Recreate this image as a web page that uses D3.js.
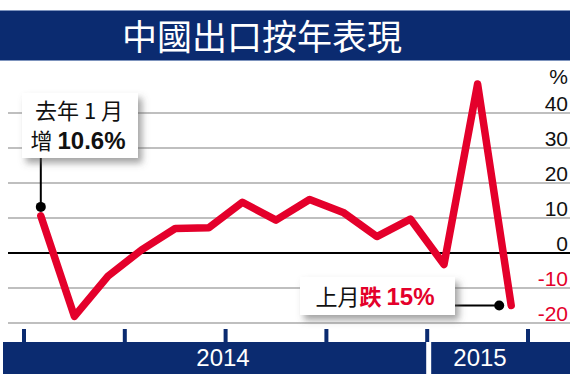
<!DOCTYPE html>
<html>
<head>
<meta charset="utf-8">
<script src="https://cdn.jsdelivr.net/npm/d3@7"></script>
<style>
  body { margin: 0; background: #fff; }
  svg { display: block; }
</style>
</head>
<body>
<div id="chart"></div>
<script>
// chart data
let title = "中國出口按年表現";
let months = ["2014-01", "2014-02", "2014-03", "2014-04", "2014-05", "2014-06", "2014-07",
              "2014-08", "2014-09", "2014-10", "2014-11", "2014-12", "2015-01", "2015-02", "2015-03"];
let exportsYoY = [10.6, -18.1, -6.6, 0.9, 7.0, 7.2, 14.5, 9.4, 15.3, 11.6, 4.7, 9.7, -3.3, 48.3, -15.0];
let yTicks = [40, 30, 20, 10, 0, -10, -20];
let years = ["2014", "2015"];
let yearStart = [0, 12];
let yearEnd = [12, 15];
let quarterTicks = [0, 3, 6, 9, 12, 15];

let width = 570;
let height = 374;

let svg = d3.select("#chart").append("svg").attr("width", width).attr("height", height);

let defs = svg.append("defs");
let shadow = defs.append("filter").attr("id", "shadow").attr("x", "-20%").attr("y", "-20%")
                 .attr("width", "150%").attr("height", "170%");
shadow.append("feDropShadow").attr("dx", 4).attr("dy", 5).attr("stdDeviation", 3.5)
      .attr("flood-color", "#555").attr("flood-opacity", 0.55);

// scales: x counts months from Jan 2014, y is percent
let xScale = d3.scaleLinear().domain([0, 15]).range([24, 528]);
let yScale = d3.scaleLinear().domain([0, 40]).range([253, 113]);

let navy = "#0b2b70";
let red = "#e4002b";
let fontLatin = "'Liberation Sans', Arial, sans-serif";
let fontCJK = "'Noto Sans CJK TC', 'Noto Sans CJK SC', sans-serif";

// title bar
svg.append("rect").attr("x", 0).attr("y", 10).attr("width", width).attr("height", 51).attr("fill", navy);
svg.append("line").attr("x1", 0).attr("x2", width).attr("y1", 10.5).attr("y2", 10.5)
   .attr("stroke", "#7d93bd").attr("stroke-width", 1);
svg.append("line").attr("x1", 0).attr("x2", width).attr("y1", 60.5).attr("y2", 60.5)
   .attr("stroke", "#7d93bd").attr("stroke-width", 1);
svg.append("text").attr("x", 262).attr("y", 50).attr("text-anchor", "middle")
   .attr("fill", "#fff").style("font-family", fontCJK).style("font-size", "35px").text(title);

// grid lines
svg.append("g").selectAll("line").data(yTicks).enter().append("line")
   .attr("x1", 8).attr("x2", width)
   .attr("y1", d => yScale(d)).attr("y2", d => yScale(d))
   .attr("stroke", d => d === 0 ? "#000" : "#aaa")
   .attr("stroke-width", d => d === 0 ? 2 : 1.3);

// y labels sit above their lines on the right
svg.append("g").selectAll("text").data(yTicks).enter().append("text")
   .attr("x", 568).attr("y", d => yScale(d) - 2).attr("text-anchor", "end")
   .attr("fill", d => d < 0 ? red : "#111")
   .style("font-family", fontLatin).style("font-size", "21px")
   .text(d => d);
svg.append("text").attr("x", 568).attr("y", 84).attr("text-anchor", "end").attr("fill", "#111")
   .style("font-family", fontLatin).style("font-size", "21px").text("%");

// bottom year bars
let barTop = 342;
years.forEach((yr, i) => {
    let x0 = i === 0 ? 3 : xScale(yearStart[i]) + 4;
    let x1 = i === years.length - 1 ? width : xScale(yearEnd[i]) - 1;
    svg.append("rect").attr("x", x0).attr("y", barTop).attr("width", x1 - x0).attr("height", height - barTop)
       .attr("fill", navy);
});
svg.append("text").attr("x", 223).attr("y", 366).attr("text-anchor", "middle").attr("fill", "#fff")
   .style("font-family", fontLatin).style("font-size", "24px").text(years[0]);
svg.append("text").attr("x", 480).attr("y", 366).attr("text-anchor", "middle").attr("fill", "#fff")
   .style("font-family", fontLatin).style("font-size", "24px").text(years[1]);

// quarter ticks
svg.append("g").selectAll("rect").data(quarterTicks).enter().append("rect")
   .attr("x", d => xScale(d) - 2).attr("y", 329).attr("width", 4).attr("height", barTop - 329)
   .attr("fill", navy);

// export line
let line = d3.line().x((d, i) => xScale(i + 0.5)).y(d => yScale(d));
svg.append("path").datum(exportsYoY).attr("d", line)
   .attr("fill", "none").attr("stroke", red).attr("stroke-width", 7.5)
   .attr("stroke-linejoin", "round").attr("stroke-linecap", "round");

// annotation: first month
let first = exportsYoY[0];
let fx = xScale(0.5);
svg.append("line").attr("x1", fx).attr("x2", fx).attr("y1", 150).attr("y2", yScale(first) - 9)
   .attr("stroke", "#000").attr("stroke-width", 2);
svg.append("circle").attr("cx", fx).attr("cy", yScale(first) - 9).attr("r", 5).attr("fill", "#000");
svg.append("rect").attr("x", 22).attr("y", 93).attr("width", 116).attr("height", 65)
   .attr("fill", "#fff").attr("filter", "url(#shadow)");
svg.append("text").attr("x", 79).attr("y", 119).attr("text-anchor", "middle").attr("fill", "#111")
   .style("font-family", fontCJK).style("font-size", "22px").text("去年 1 月");
let t1 = svg.append("text").attr("x", 78).attr("y", 149).attr("text-anchor", "middle").attr("fill", "#111");
t1.append("tspan").style("font-family", fontCJK).style("font-size", "22px").text("增 ");
t1.append("tspan").style("font-family", fontLatin).style("font-size", "24px").style("font-weight", "bold")
  .text(first + "%");

// annotation: last month
let lastI = exportsYoY.length - 1;
let last = exportsYoY[lastI];
let lx = xScale(lastI + 0.5) - 12;
svg.append("line").attr("x1", 450).attr("x2", lx).attr("y1", yScale(last)).attr("y2", yScale(last))
   .attr("stroke", "#000").attr("stroke-width", 2);
svg.append("circle").attr("cx", lx).attr("cy", yScale(last)).attr("r", 5).attr("fill", "#000");
svg.append("rect").attr("x", 300).attr("y", 277).attr("width", 155).attr("height", 38)
   .attr("fill", "#fff").attr("filter", "url(#shadow)");
let t2 = svg.append("text").attr("x", 375).attr("y", 305).attr("text-anchor", "middle");
t2.append("tspan").attr("fill", "#111").style("font-family", fontCJK).style("font-size", "22px").text("上月");
t2.append("tspan").attr("fill", red).style("font-family", fontCJK).style("font-size", "22px")
  .style("font-weight", "bold").text("跌 ");
t2.append("tspan").attr("fill", red).style("font-family", fontLatin).style("font-size", "24px")
  .style("font-weight", "bold").text(Math.abs(last) + "%");
</script>
</body>
</html>
